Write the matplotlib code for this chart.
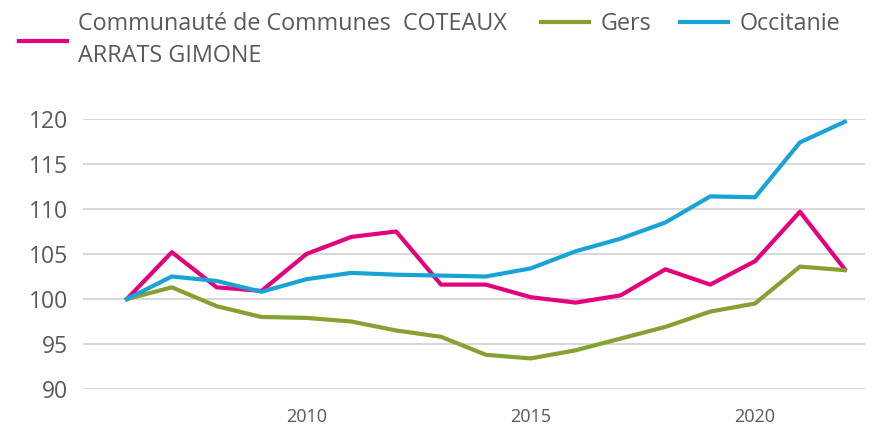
import matplotlib
matplotlib.use('Agg')
import matplotlib.pyplot as plt

plt.rcParams['font.family'] = ['Open Sans', 'DejaVu Sans']

years = list(range(2006, 2023))
cc_coteaux = [100, 105.2, 101.3, 100.9, 105.0, 106.9, 107.5, 101.6, 101.6,
              100.2, 99.6, 100.4, 103.3, 101.6, 104.2, 109.7, 103.3]
gers = [100, 101.3, 99.2, 98.0, 97.9, 97.5, 96.5, 95.8, 93.8,
        93.4, 94.3, 95.6, 96.9, 98.6, 99.5, 103.6, 103.2]
occitanie = [100, 102.5, 102.0, 100.8, 102.2, 102.9, 102.7, 102.6, 102.5,
             103.4, 105.3, 106.7, 108.5, 111.4, 111.3, 117.4, 119.7]

label_cc = 'Communauté de Communes  COTEAUX\nARRATS GIMONE'
label_gers = 'Gers'
label_occ = 'Occitanie'

y_ticks = [90, 95, 100, 105, 110, 115, 120]
x_ticks = [2010, 2015, 2020]

text_col = '#595959'
pink = '#E4007C'
green = '#86A031'
blue = '#17A3D6'

fig = plt.figure(figsize=(8.72, 4.26), dpi=100)
ax = fig.add_axes([83 / 872, 1 - 389 / 426, (865 - 83) / 872, (389 - 119) / 426])

l_cc, = ax.plot(years, cc_coteaux, color=pink, lw=3, clip_on=False, zorder=3)
l_gers, = ax.plot(years, gers, color=green, lw=3, clip_on=False, zorder=3)
l_occ, = ax.plot(years, occitanie, color=blue, lw=3, clip_on=False, zorder=4)

ax.set_ylim(90, 120)
ax.set_xlim(2005.02, 2022.45)
ax.set_yticks(y_ticks)
ax.set_xticks(x_ticks)
ax.grid(axis='y', color='#D4D4D4', lw=1.3)
ax.set_axisbelow(True)
for s in ax.spines.values():
    s.set_visible(False)
ax.tick_params(axis='y', length=0, pad=11, labelsize=16.5, labelcolor=text_col)
ax.tick_params(axis='x', length=0, pad=14, labelsize=13, labelcolor=text_col)

leg1 = fig.legend([l_cc], [label_cc], loc='upper left', bbox_to_anchor=(19 / 872, 0.972),
                  frameon=False, fontsize=16.8, labelcolor=text_col, borderpad=0,
                  borderaxespad=0, handlelength=2.05, handletextpad=0.5)
leg1.get_texts()[0].set_linespacing(1.45)
fig.legend([l_gers, l_occ], [label_gers, label_occ], loc='upper left',
           bbox_to_anchor=(541 / 872, 0.972), ncol=2, frameon=False, fontsize=16.8,
           labelcolor=text_col, borderpad=0, borderaxespad=0, handlelength=2.05,
           handletextpad=0.5, columnspacing=1.25)

fig.savefig('out.png', dpi=100)
